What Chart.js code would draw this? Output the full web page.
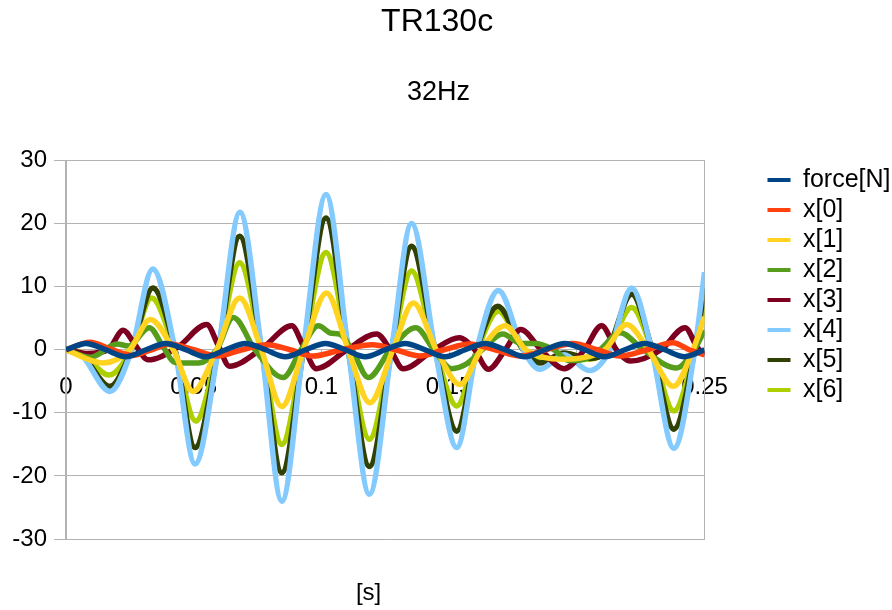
<!DOCTYPE html>
<html><head><meta charset="utf-8">
<script src="https://cdn.jsdelivr.net/npm/chart.js@4/dist/chart.umd.min.js"></script>
<style>html,body{margin:0;padding:0;background:#fff}</style>
</head><body>
<canvas id="c" width="892" height="610"></canvas>
<script>
// ---- data ----
const seriesNames = ['force[N]','x[0]','x[1]','x[2]','x[3]','x[4]','x[5]','x[6]'];
const xTicks = [0, 0.05, 0.1, 0.15, 0.2, 0.25];
const yTicks = [-30, -20, -10, 0, 10, 20, 30];

const tForce = [0,0.0078,0.0156,0.0234,0.0313,0.0391,0.0469,0.0547,0.0625,0.0703,0.0781,0.0859,0.0938,0.1016,0.1094,0.1172,0.125,0.1328,0.1406,0.1484,0.1563,0.1641,0.1719,0.1797,0.1875,0.1953,0.2031,0.2109,0.2188,0.2266,0.2344,0.2422,0.25];
const vForce = [0,1.0,0,-1.1,0,1.0,0,-1.1,0,1.0,0,-1.1,0,1.0,0,-1.1,0,1.0,0,-1.1,0,1.0,0,-1.1,0,1.0,0,-1.1,0,1.0,0,-1.1,0];

const tX0 = [0,0.0094,0.018,0.0262,0.0335,0.0407,0.05,0.0591,0.069,0.0787,0.0877,0.0967,0.108,0.120,0.129,0.1386,0.148,0.158,0.168,0.178,0.188,0.1985,0.208,0.217,0.2275,0.2377,0.244,0.25];
const vX0 = [0,1.2,0,-0.9,0,0.9,0,-1.0,0,0.8,0,-1.0,0,0.8,0,-1.0,0,0.9,0,-1.0,0,1.0,0,-1.0,0,1.1,0,-0.8];

const tX1 = [0,0.0146,0.025,0.033,0.042,0.0498,0.059,0.068,0.0765,0.0845,0.093,0.102,0.1105,0.119,0.128,0.136,0.145,0.1543,0.1625,0.172,0.180,0.187,0.195,0.203,0.211,0.2195,0.228,0.2378,0.2455,0.25];
const vX1 = [0,-2.1,0,4.8,0,-6.6,0,8.2,0,-9.0,0,9.0,0,-8.4,0,7.4,0,-5.5,0,3.8,0,-1.2,-1.5,-1.2,0,4.0,0,-5.8,0,5.2];

const tX2 = [0,0.0095,0.02,0.0245,0.0326,0.038,0.0425,0.047,0.052,0.059,0.0655,0.074,0.085,0.092,0.0988,0.104,0.107,0.112,0.1184,0.127,0.137,0.144,0.151,0.157,0.163,0.171,0.178,0.184,0.191,0.197,0.203,0.209,0.217,0.226,0.239,0.246,0.25];
const vX2 = [0,-1.2,0.9,0.6,3.5,0.5,-2.0,-2.1,-2.1,0,5.1,0,-4.4,0,3.8,2.6,2.5,0,-4.4,0,3.5,0,-3.0,-2.2,0,2.5,1.0,1.0,0,-1.7,-1.5,0,2.7,0,-2.9,0,3.1];

const tX3 = [0,0.008,0.0165,0.0224,0.027,0.0322,0.044,0.0551,0.0595,0.064,0.077,0.0884,0.093,0.098,0.11,0.1216,0.127,0.132,0.144,0.154,0.16,0.1654,0.172,0.178,0.186,0.195,0.203,0.2097,0.2155,0.221,0.233,0.2424,0.247,0.25];
const vX3 = [0,-0.6,0,3.1,0.8,-1.6,0.5,4.0,0.8,-2.6,0.3,3.8,0.5,-3.0,0,2.5,0,-3.0,0,1.9,0,-3.1,0,3.2,0,-3.0,0,3.8,0,-1.8,0,3.5,0.5,-0.9];

const tX4 = [0,0.006,0.0172,0.0257,0.034,0.0427,0.0505,0.0596,0.0681,0.0766,0.0845,0.0929,0.1018,0.1105,0.1188,0.1275,0.1353,0.1445,0.153,0.1608,0.1693,0.179,0.1856,0.195,0.205,0.213,0.2215,0.2293,0.238,0.2462,0.25];
const vX4 = [0,-0.8,-6.6,0,12.8,0,-18.1,0,21.8,0,-24.0,0,24.6,0,-22.9,0,20.0,0,-15.5,0,9.4,0,-3.1,-0.8,-3.3,0,9.8,0,-15.6,0,12.3];

const tX5 = [0,0.006,0.0172,0.0257,0.034,0.0427,0.0505,0.0596,0.068,0.0766,0.0845,0.093,0.1018,0.1105,0.1188,0.1275,0.1353,0.1445,0.153,0.1608,0.169,0.179,0.1856,0.195,0.205,0.212,0.2215,0.2295,0.238,0.2462,0.25];
const vX5 = [0,-0.7,-5.8,0,9.8,0,-15.5,0,18.0,0,-19.5,0,20.9,0,-18.5,0,16.4,0,-12.9,0,6.9,0,-2.1,-0.5,-1.4,0,8.8,0,-12.6,0,9.7];

const tX6 = [0,0.006,0.0168,0.0255,0.0335,0.0425,0.0508,0.0595,0.068,0.0766,0.0845,0.093,0.1018,0.1105,0.1188,0.1275,0.1353,0.1445,0.153,0.161,0.1693,0.179,0.187,0.196,0.205,0.212,0.2215,0.2295,0.238,0.2462,0.25];
const vX6 = [0,-0.5,-4.0,0,8.2,0,-11.3,0,13.8,0,-15.0,0,15.4,0,-14.2,0,12.5,0,-8.9,0,6.1,0,-1.8,-0.6,-1.5,0,6.7,0,-9.7,0,6.8];

const seriesT = [tForce,tX0,tX1,tX2,tX3,tX4,tX5,tX6];
const seriesV = [vForce,vX0,vX1,vX2,vX3,vX4,vX5,vX6];
const colors = ['#004586','#ff420e','#ffd320','#579d1c','#7e0021','#83caff','#314004','#aecf00'];

const FONT = "'Liberation Sans', Arial, sans-serif";
const GRID = '#b3b3b3';

const datasets = seriesNames.map((name, i) => ({
  label: name,
  data: seriesT[i].map((t, k) => ({x: t, y: seriesV[i][k]})),
  borderColor: colors[i],
  backgroundColor: colors[i],
  borderWidth: 5.5,
  pointRadius: 0,
  cubicInterpolationMode: 'monotone',
  fill: false
}));

const layoutFix = {
  id: 'layoutFix',
  beforeLayout(chart) {
    const lg = chart.legend;
    if (lg && !lg._fixed) {
      const orig = lg.fit;
      lg.fit = function () { orig.call(this); this.width = 129.5; };
      lg._fixed = true;
    }
  },
  afterLayout(chart) {
    const lg = chart.legend;
    if (lg) { lg.top += 2; lg.bottom += 2; }
  }
};

new Chart(document.getElementById('c'), {
  type: 'line',
  data: { datasets },
  plugins: [layoutFix],
  options: {
    responsive: false,
    animation: false,
    devicePixelRatio: 1,
    layout: { padding: 0 },
    plugins: {
      title: { display: true, text: 'TR130c  ', color: '#000',
        font: { family: FONT, size: 32, weight: 'normal' }, padding: { top: 2.5, bottom: 0 } },
      subtitle: { display: true, text: '32Hz  ', color: '#000',
        font: { family: FONT, size: 27, weight: 'normal' }, padding: { top: 35.9, bottom: 51.3 } },
      legend: {
        position: 'right', align: 'start', fullSize: false,
        labels: {
          boxWidth: 23, boxHeight: 4, padding: 5, color: '#000',
          font: { family: FONT, size: 25 },
          generateLabels: (chart) => chart.data.datasets.map((ds, i) => ({
            text: ds.label, fillStyle: ds.borderColor, strokeStyle: ds.borderColor,
            lineWidth: 0, hidden: false, datasetIndex: i, fontColor: '#000'
          }))
        }
      },
      tooltip: { enabled: false }
    },
    scales: {
      x: {
        type: 'linear', min: 0, max: 0.25, position: { y: 0 },
        afterBuildTicks: (s) => { s.ticks = xTicks.map(v => ({ value: v })); },
        ticks: { color: '#000', font: { family: FONT, size: 24 }, padding: 18, maxRotation: 0,
          callback: (v) => String(+Number(v).toFixed(2)) },
        grid: { display: true, drawOnChartArea: false, drawTicks: true, tickLength: 5, color: GRID },
        border: { display: false }
      },
      x2: {
        type: 'linear', min: 0, max: 0.25, position: 'bottom',
        ticks: { display: false },
        grid: { display: false, drawTicks: false },
        border: { display: false },
        title: { display: true, text: '[s]     ', color: '#000',
          font: { family: FONT, size: 24 }, padding: { top: 39.6, bottom: 2.6 } }
      },
      y: {
        type: 'linear', min: -30, max: 30, position: 'left',
        afterBuildTicks: (s) => { s.ticks = yTicks.map(v => ({ value: v })); },
        afterFit: (s) => { s.width = 66; },
        ticks: { color: '#000', font: { family: FONT, size: 24 }, padding: 7 },
        grid: { color: GRID, lineWidth: 1, tickLength: 12 },
        border: { color: GRID, width: 2 }
      },
      yR: {
        type: 'linear', min: -30, max: 30, position: 'right',
        afterFit: (s) => { s.width = 58; },
        ticks: { display: false },
        grid: { display: false, drawTicks: false },
        border: { display: true, color: GRID, width: 1 }
      }
    }
  }
});
</script>
</body></html>
